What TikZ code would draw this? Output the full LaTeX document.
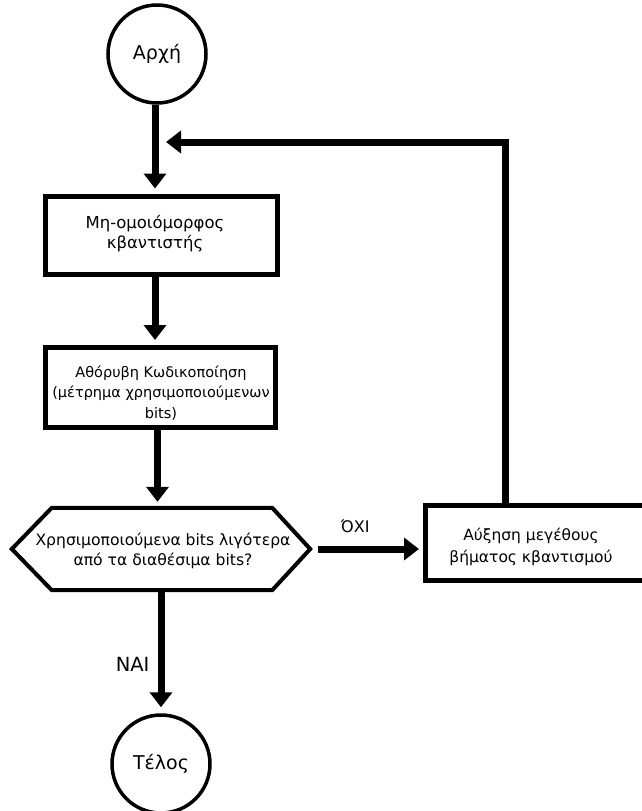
\documentclass[tikz,border=0pt]{standalone}
\usepackage{fontspec}
\setmainfont{DejaVu Sans}
\usetikzlibrary{arrows.meta}
\begin{document}
\begin{tikzpicture}[x=1pt,y=-1pt,
  terminal/.style={circle,draw,line width=3.5pt,minimum size=98pt,inner sep=0pt,
    font=\fontsize{19}{22}\selectfont},
  procbox/.style={draw,line width=5pt,inner sep=0pt},
  boxtext/.style={align=center,inner sep=0pt},
  flow/.style={line width=7pt,-{Triangle[width=22pt,length=15pt]}},
  edgelabel/.style={inner sep=0pt}
]
\clip (0,0) rectangle (642,811);
\fill[white] (0,0) rectangle (642,811);

% terminals
\node[terminal] (start) at (157,54) {Αρχή};
\node[terminal] (stop) at (161,764) {Τέλος};

% process boxes
\node[procbox,minimum width=232pt,minimum height=78pt] (quant) at (161,235) {};
\node[boxtext,font=\fontsize{16.5}{20}\selectfont] at (155,234) {Μη-ομοιόμορφος\\κβαντιστής};

\node[procbox,minimum width=230pt,minimum height=80pt] (coder) at (160.5,387.5) {};
\node[boxtext,font=\fontsize{14.5}{20.5}\selectfont] at (161,393) {Αθόρυβη Κωδικοποίηση\\(μέτρημα χρησιμοποιούμενων\\bits)};

% decision (hexagon)
\node[minimum width=298pt,minimum height=82pt,inner sep=0pt] (test) at (161,549) {};
\draw[line width=4pt,line join=miter]
  (test.west) -- ([xshift=40pt]test.north west) -- ([xshift=-38pt]test.north east)
  -- (test.east) -- ([xshift=-38pt]test.south east) -- ([xshift=40pt]test.south west) -- cycle;
\node[boxtext,font=\fontsize{15.6}{19.5}\selectfont] at (163,551) {Χρησιμοποιούμενα bits λιγότερα\\από τα διαθέσιμα bits?};

% step-size increase box, running off the right edge
\node[procbox,minimum width=235pt,minimum height=75pt] (incr) at (543,543) {};
\node[boxtext,font=\fontsize{15.5}{22}\selectfont] at (531,547) {Αύξηση μεγέθους\\βήματος κβαντισμού};

% flow arrows
\draw[flow,shorten >=5pt] ([xshift=-2pt]start.south) -- ([xshift=-2pt]start.south |- quant.north);
\draw[flow,shorten >=5pt] ([xshift=-6pt]quant.south) -- ([xshift=-6pt]quant.south |- coder.north);
\draw[flow,shorten >=6pt] ([xshift=-3pt]coder.south) -- ([xshift=-3pt]coder.south |- test.north);
\draw[flow,shorten >=6pt] (test.south) -- (test.south |- stop.north)
  node[edgelabel,pos=0.6,left=8pt,font=\fontsize{19.5}{22}\selectfont] {ΝΑΙ};
\draw[flow,shorten <=8pt,shorten >=4pt] (test.east) -- (test.east -| incr.west)
  node[edgelabel,pos=0.4,above=13pt,font=\fontsize{16}{18}\selectfont] {ΌΧΙ};

% feedback loop back to the top
\coordinate (loopin) at (166,142);
\draw[flow,line join=miter] ([xshift=82pt]incr.north west) |- (loopin);
\end{tikzpicture}
\end{document}
